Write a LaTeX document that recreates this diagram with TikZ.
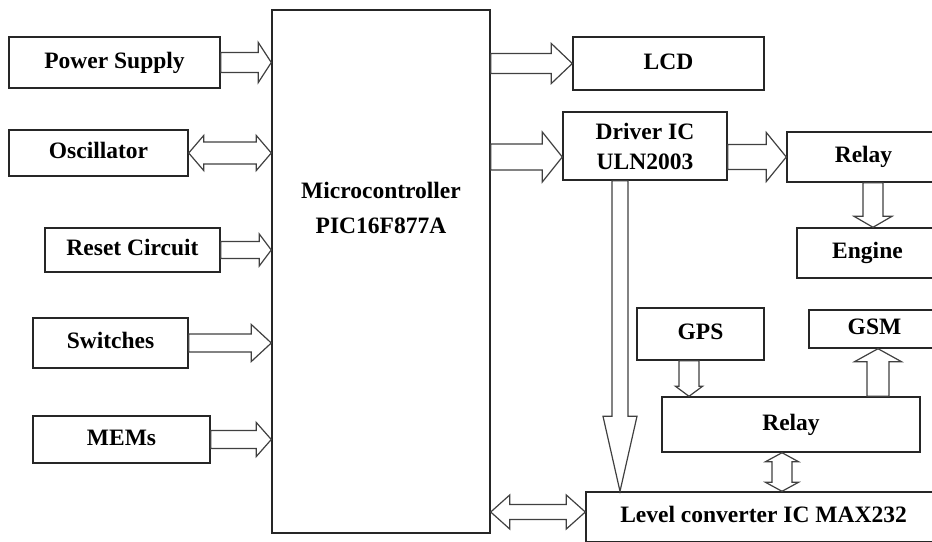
\documentclass[tikz,border=0pt]{standalone}
\usepackage{fontspec}
\setmainfont{Liberation Serif}
\usetikzlibrary{positioning,calc}

% hollow block arrow: from, to, shaft half width, head half width, head length
\newcommand{\fatarrow}[5]{%
  \draw[fat] let \p1=(#1), \p2=(#2), \p3=($(#2)!#5!(#1)$) in
    ($(\p1)!#3!90:(\p2)$) -- ($(\p3)!#3!90:(\p2)$) -- ($(\p3)!#4!90:(\p2)$) -- (\p2)
    -- ($(\p3)!#4!-90:(\p2)$) -- ($(\p3)!#3!-90:(\p2)$) -- ($(\p1)!#3!-90:(\p2)$) -- cycle;}
% the same with a head on both ends
\newcommand{\fatdarrow}[5]{%
  \draw[fat] let \p1=(#1), \p2=(#2), \p3=($(#2)!#5!(#1)$), \p4=($(#1)!#5!(#2)$) in
    (\p1) -- ($(\p4)!#4!90:(\p2)$) -- ($(\p4)!#3!90:(\p2)$) -- ($(\p3)!#3!90:(\p2)$)
    -- ($(\p3)!#4!90:(\p2)$) -- (\p2) -- ($(\p3)!#4!-90:(\p2)$) -- ($(\p3)!#3!-90:(\p2)$)
    -- ($(\p4)!#3!-90:(\p2)$) -- ($(\p4)!#4!-90:(\p2)$) -- cycle;}

\begin{document}
\begin{tikzpicture}[x=1pt, y=-1pt,
  boxbase/.style={draw=black!85, line width=1.4pt, inner sep=0pt, font=\fontsize{23.5}{30}\selectfont\bfseries},
  block/.style={boxbase, text height=17pt, text depth=6pt},
  fat/.style={draw=black!75, line width=1.2pt, fill=white, line join=miter}]

\useasboundingbox (0,0) rectangle (932,541);

%ulazi mikrokontrolera
\node[block, minimum width=211pt, minimum height=51pt] (psu) at (114.5,62.5) {Power Supply};
\node[block, minimum width=179pt, minimum height=46pt] (osc) at (98.5,153) {Oscillator};
\node[block, minimum width=175pt, minimum height=44pt] (rst) at (132.5,250) {Reset Circuit};
\node[block, minimum width=155pt, minimum height=50pt] (sw) at (110.5,343) {Switches};
\node[block, minimum width=177pt, minimum height=47pt] (mems) at (121.5,439.5) {MEMs};

%mikrokontroler
\node[boxbase, minimum width=218pt, minimum height=523pt] (mcu) at (381,271.5) {};
\node[boxbase, draw=none, align=center] (mcutxt) at (381,207.5) {Microcontroller\\[5pt]PIC16F877A};

%izlazi
\node[block, minimum width=191pt, minimum height=53pt] (lcd) at (668.5,63.5) {LCD};
\node[boxbase, align=center, minimum width=164pt, minimum height=68pt] (drv) at (645,146) {Driver IC\\ULN2003};
\node[block, minimum width=153pt, minimum height=50pt] (rly) at (863.5,157) {Relay};
\node[block, minimum width=141pt, minimum height=50pt] (eng) at (867.5,253) {Engine};

%GPS, GSM i pretvornik razine
\node[block, minimum width=127pt, minimum height=52pt] (gps) at (700.5,334) {GPS};
\node[block, minimum width=131pt, minimum height=38pt] (gsm) at (874.5,329) {GSM};
\node[block, minimum width=258pt, minimum height=55pt] (rly2) at (791,424.5) {Relay};
\node[block, minimum width=355pt, minimum height=50pt] (lvl) at (763.5,517) {Level converter IC MAX232};

%krajevi strelica
\coordinate (engin) at ($(eng.north)+(5.5,0)$);
\coordinate (drvout) at ($(drv.south)+(-25,0)$);
\coordinate (gpsout) at ($(gps.south)+(-11.5,0)$);
\coordinate (gsmin) at ($(gsm.south)+(3.5,0)$);
\coordinate (rlyout) at ($(rly2.south)+(-9,0)$);
\coordinate (lvlin) at ($(lvl.west)+(0,-5)$);

%strelice prema mikrokontroleru
\fatarrow{psu.east}{psu.east -| mcu.west}{10pt}{20pt}{13pt}
\fatdarrow{osc.east}{osc.east -| mcu.west}{11pt}{17.5pt}{15pt}
\fatarrow{rst.east}{rst.east -| mcu.west}{8.5pt}{16pt}{12pt}
\fatarrow{sw.east}{sw.east -| mcu.west}{9pt}{18.5pt}{20pt}
\fatarrow{mems.east}{mems.east -| mcu.west}{9pt}{17pt}{15pt}

%strelice od mikrokontrolera
\fatarrow{mcu.east |- lcd.west}{lcd.west}{10pt}{20pt}{21pt}
\fatarrow{mcu.east |- rly.west}{drv.west |- rly.west}{13pt}{25pt}{20pt}
\fatarrow{drv.east |- rly.west}{rly.west}{12.5pt}{24.5pt}{20pt}
\fatarrow{rly.south -| engin}{engin}{10pt}{19pt}{11pt}

%strelice prema pretvorniku razine
\fatarrow{drvout}{drvout |- lvl.north}{8pt}{17pt}{75pt}
\fatarrow{gpsout}{gpsout |- rly2.north}{10pt}{13.5pt}{10pt}
\fatarrow{rly2.north -| gsmin}{gsmin}{11pt}{23.5pt}{13pt}
\fatdarrow{rlyout}{rlyout |- lvl.north}{10pt}{16.5pt}{9pt}
\fatdarrow{mcu.east |- lvlin}{lvlin}{7.5pt}{17pt}{19pt}

\end{tikzpicture}
\end{document}
